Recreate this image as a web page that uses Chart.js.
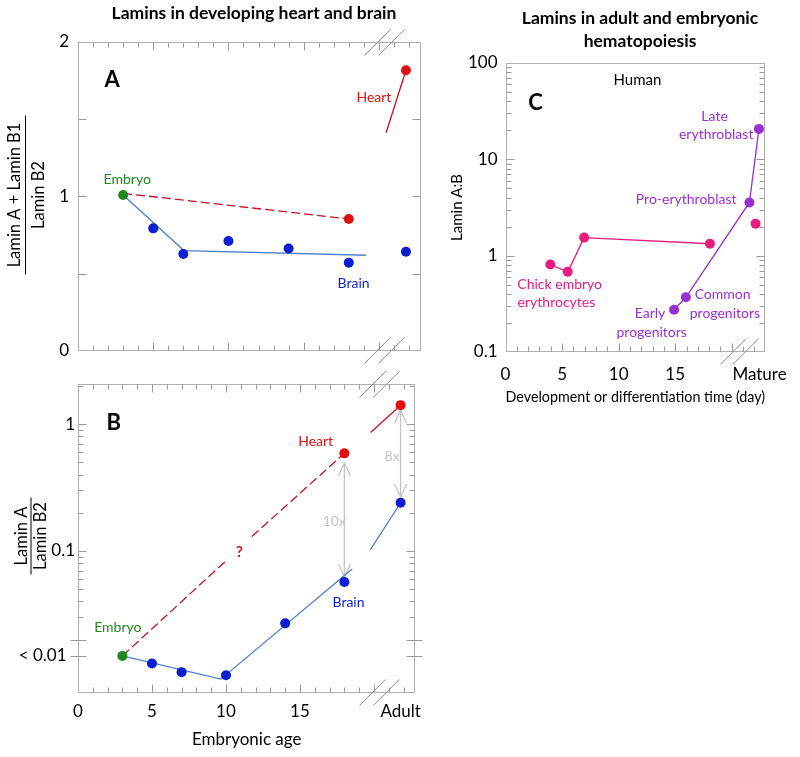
<!DOCTYPE html>
<html><head><meta charset="utf-8">
<script src="https://cdn.jsdelivr.net/npm/chart.js@4.4.1/dist/chart.umd.min.js"></script>
<style>
body{margin:0;background:#fff;width:800px;height:757px;position:relative;overflow:hidden}
canvas{position:absolute;display:block}
#cA{left:0;top:0}#cB{left:0;top:370px}#cC{left:430px;top:0}
</style></head><body>
<canvas id="cA" width="430" height="370"></canvas>
<canvas id="cB" width="430" height="387"></canvas>
<canvas id="cC" width="370" height="420"></canvas>
<script>
// ---------- DATA ----------
// Panel A: (Lamin A + Lamin B1) / Lamin B2, linear
const embryoAge = 3;
const adultX = 21.8;
const embryoRatioA = 1.009;
const brainAgesA = [5, 7, 10, 14, 18, 21.8];
const brainRatioA = [0.793, 0.627, 0.711, 0.662, 0.571, 0.642];
const heartAgesA = [18, 21.8];
const heartRatioA = [0.854, 1.817];
const brainFitXA = [3, 7.04, 19.15];
const brainFitYA = [1.009, 0.649, 0.619];
const heartDashXA = [3, 18];
const heartDashYA = [1.02, 0.854];
const heartAdultXA = [20.48, 21.8];
const heartAdultYA = [1.412, 1.817];
const yTicksA = [0, 1, 2];

// Panel B: Lamin A / Lamin B2, log
const embryoRatioB = 0.0149;
const brainAgesB = [5, 7, 10, 14, 18, 21.8];
const brainRatioB = [0.0130, 0.0111, 0.0105, 0.0269, 0.057, 0.240];
const heartAgesB = [18, 21.8];
const heartRatioB = [0.588, 1.41];
const brainFitXB = [3, 9.65, 18.53];
const brainFitYB = [0.0149, 0.00977, 0.0721];
const brainAdultXB = [19.75, 21.8];
const brainAdultYB = [0.102, 0.240];
const heartDash1XB = [3, 9.94];
const heartDash1YB = [0.0149, 0.0824];
const heartDash2XB = [11.75, 18];
const heartDash2YB = [0.130, 0.588];
const heartAdultXB = [19.77, 21.8];
const heartAdultYB = [0.859, 1.41];
const foldX = [18, 21.8];
const foldTop = [0.493, 1.289];
const foldBottom = [0.0624, 0.266];
const foldLabels = ['10x', '8x'];
const xTicksB = [0, 5, 10, 15, 21.8];
const xTickLabelsB = ['0', '5', '10', '15', 'Adult'];
const yTicksB = [0.0149, 0.1, 1];
const yTickLabelsB = ['< 0.01\u2002', '0.1', '1'];

// Panel C: Lamin A:B, log
const chickDays = [3.96, 5.5, 6.95, 18.07];
const chickRatio = [0.81, 0.68, 1.54, 1.33];
const chickMatureX = [22.1];
const chickMatureRatio = [2.15];
const humanDays = [14.9, 15.94, 21.56, 22.4];
const humanRatio = [0.275, 0.37, 3.57, 20.7];
const xTicksC = [0, 5, 10, 15, 22.45];
const xTickLabelsC = ['0', '5', '10', '15', 'Mature'];
const yTicksC = [0.1, 1, 10, 100];
const yTickLabelsC = ['0.1', '1', '10', '100'];

// ---------- STYLE ----------
const FONT = 'Lato, "Open Sans", sans-serif';
Chart.defaults.font.family = FONT;
Chart.defaults.color = '#000';
const RED = '#e01010', REDLINE = '#c8102a', BLUE = '#0a1ed2', BLUELINE = '#4d80cc',
      GREEN = '#1e8a1e', PINK = '#ea1a7f', PURPLE = '#9a30d2', GRAY = '#c4c4c4',
      FRAME = '#b0b0b0', TICK = '#999999', SLASH = '#8a8a8a';

function pts(xs, ys) { return xs.map((x, i) => ({x: x, y: ys[i]})); }
function lineDS(xs, ys, c, dash) {
  return {data: pts(xs, ys), showLine: true, borderColor: c, borderWidth: 1.3,
    borderDash: dash || [], pointRadius: 0, pointHoverRadius: 0, fill: false, order: 2};
}
function dotDS(xs, ys, c) {
  return {data: pts(xs, ys), showLine: false, backgroundColor: c, borderColor: c,
    pointRadius: 5, pointBorderWidth: 0, pointHoverRadius: 5, order: 1};
}
function range(a, b) { const r = []; for (let i = a; i <= b; i++) r.push(i); return r; }
function logMinor(decades) { const r = []; decades.forEach(d => { for (let k = 2; k <= 9; k++) r.push(+(d * k).toPrecision(3)); }); return r; }

// decoration (frames, inner tick marks, axis breaks, labels)
const xMarksAB = range(1, 22).map(v => [v, v % 5 === 0 ? 8 : 5]);
const xMarksC = range(1, 22).map(v => [v, v % 5 === 0 ? 8 : 5]);
const lab = (t, x, y, color, font) => ({t, x, y, color, font});
const F14 = '14px ' + FONT, BIG = 'bold 22px ' + FONT, TITLE = 'bold 17.5px ' + FONT;
const DECOR = {
  cA: {
    xMarks: xMarksAB, xTop: true,
    yMarks: [[0.5, 8], [1, 8], [1.5, 8]],
    xBreaks: [19.9, 20.83], breakEdges: ['top', 'bottom'],
    labels: [
      lab('A', 2.27, 1.752, '#000', BIG),
      lab('Heart', 19.67, 1.64, RED, F14),
      lab('Embryo', 3.27, 1.11, GREEN, F14),
      lab('Brain', 18.32, 0.433, BLUE, F14)
    ],
    texts: [{t: 'Lamins in developing heart and brain', x: 254, y: 13, font: TITLE}],
    fraction: {num: 'Lamin A + Lamin B1', den: 'Lamin B2', numX: 15, denX: 38.5, barX: 25.5, cy: 195, len: 159, font: '16.5px ' + FONT}
  },
  cB: {
    xMarks: xMarksAB, xTop: true,
    yMarks: [[1, 8], [0.1, 8]].concat(logMinor([0.01, 0.1]).filter(v => v > 0.025).map(v => [v, 5])).concat([[2, 5]]),
    yBreaks: [0.02, 0.0149],
    xBreaks: [19.9, 20.83], breakEdges: ['top', 'bottom'],
    arrows: foldX.map((x, i) => ({x: x, top: foldTop[i], bottom: foldBottom[i]})),
    labels: [
      lab('B', 2.42, 1.02, '#000', BIG),
      lab('Heart', 16.06, 0.735, RED, F14),
      lab('Brain', 18.28, 0.0391, BLUE, F14),
      lab('Embryo', 2.69, 0.025, GREEN, F14),
      lab('?', 10.91, 0.0971, '#c8102a', 'bold 15px ' + FONT),
      lab(foldLabels[0], 17.32, 0.17, GRAY, F14),
      lab(foldLabels[1], 21.23, 0.553, GRAY, F14)
    ],
    texts: [],
    fraction: {num: 'Lamin A', den: 'Lamin B2', numX: 22, denX: 40.5, barX: 31, cy: 166, len: 77, font: '16.5px ' + FONT}
  },
  cC: {
    xMarks: xMarksC, xTop: false,
    yMarks: [[1, 8], [10, 8]].concat(logMinor([0.1, 1, 10]).map(v => [v, 5])),
    xBreaks: [20.13, 21.24], breakEdges: ['bottom'],
    labels: [
      lab('Human', 11.66, 65.7, '#000', '15px ' + FONT),
      lab('C', 2.65, 38.6, '#000', BIG),
      lab('Late', 18.48, 27.9, PURPLE, F14),
      lab('erythroblast', 18.62, 18.0, PURPLE, F14),
      lab('Pro-erythroblast', 15.97, 3.81, PURPLE, F14),
      lab('Chick embryo', 4.79, 0.508, PINK, F14),
      lab('erythrocytes', 4.5, 0.327, PINK, F14),
      lab('Common', 19.19, 0.394, PURPLE, F14),
      lab('progenitors', 19.39, 0.25, PURPLE, F14),
      lab('Early', 12.77, 0.25, PURPLE, F14),
      lab('progenitors', 12.92, 0.161, PURPLE, F14)
    ],
    texts: [
      {t: 'Lamins in adult and embryonic', x: 210, y: 18, font: TITLE},
      {t: 'hematopoiesis', x: 210, y: 41, font: TITLE}
    ]
  }
};

const decor = {
  id: 'decor',
  beforeDatasetsDraw(chart) {
    const d = DECOR[chart.canvas.id]; if (!d) return;
    const {ctx, chartArea: a, scales: {x, y}} = chart;
    const L = Math.round(a.left) + 0.5, R = Math.round(a.right) - 0.5,
          T = Math.round(a.top) + 0.5, B = Math.round(a.bottom) - 0.5;
    ctx.save();
    ctx.lineWidth = 1;
    ctx.strokeStyle = FRAME;
    ctx.strokeRect(L, T, R - L, B - T);
    ctx.strokeStyle = TICK;
    ctx.beginPath();
    (d.xMarks || []).forEach(([v, len]) => {
      const px = Math.round(x.getPixelForValue(v)) + 0.5;
      ctx.moveTo(px, B); ctx.lineTo(px, B - len);
      if (d.xTop) { ctx.moveTo(px, T); ctx.lineTo(px, T + len); }
    });
    (d.yMarks || []).forEach(([v, len]) => {
      const py = Math.round(y.getPixelForValue(v)) + 0.5;
      ctx.moveTo(L, py); ctx.lineTo(L + len, py);
      ctx.moveTo(R, py); ctx.lineTo(R - len, py);
    });
    (d.yBreaks || []).forEach(v => {
      const py = Math.round(y.getPixelForValue(v)) + 0.5;
      ctx.moveTo(L - 8, py); ctx.lineTo(L + 8, py);
      ctx.moveTo(R - 8, py); ctx.lineTo(R + 8, py);
    });
    ctx.stroke();
    ctx.strokeStyle = SLASH;
    ctx.beginPath();
    (d.xBreaks || []).forEach(v => {
      const px = x.getPixelForValue(v);
      d.breakEdges.forEach(e => {
        const ey = e === 'top' ? T : B;
        ctx.moveTo(px - 13, ey + 13); ctx.lineTo(px + 13, ey - 13);
      });
    });
    ctx.stroke();
    if (d.arrows) {
      ctx.strokeStyle = GRAY; ctx.lineWidth = 1.3;
      d.arrows.forEach(ar => {
        const px = x.getPixelForValue(ar.x), t = y.getPixelForValue(ar.top), b = y.getPixelForValue(ar.bottom);
        ctx.beginPath();
        ctx.moveTo(px, t); ctx.lineTo(px, b);
        ctx.moveTo(px - 6, t + 13); ctx.lineTo(px, t); ctx.lineTo(px + 6, t + 13);
        ctx.moveTo(px - 6, b - 13); ctx.lineTo(px, b); ctx.lineTo(px + 6, b - 13);
        ctx.stroke();
      });
    }
    ctx.restore();
  },
  afterDatasetsDraw(chart) {
    const d = DECOR[chart.canvas.id]; if (!d) return;
    const {ctx, scales: {x, y}} = chart;
    ctx.save();
    ctx.textAlign = 'center'; ctx.textBaseline = 'middle';
    (d.labels || []).forEach(l => {
      ctx.font = l.font; ctx.fillStyle = l.color;
      ctx.fillText(l.t, x.getPixelForValue(l.x), y.getPixelForValue(l.y));
    });
    (d.texts || []).forEach(l => {
      ctx.font = l.font; ctx.fillStyle = '#000';
      ctx.fillText(l.t, l.x, l.y);
    });
    if (d.fraction) {
      const f = d.fraction;
      ctx.font = f.font; ctx.fillStyle = '#000';
      ctx.translate(0, f.cy); ctx.rotate(-Math.PI / 2);
      ctx.fillText(f.num, 0, f.numX);
      ctx.fillText(f.den, 0, f.denX);
      ctx.strokeStyle = '#000'; ctx.lineWidth = 1;
      ctx.beginPath(); ctx.moveTo(-f.len / 2, f.barX); ctx.lineTo(f.len / 2, f.barX); ctx.stroke();
    }
    ctx.restore();
  }
};

const noGrid = {display: false, drawTicks: false};
const noBorder = {display: false};
const baseOpts = {responsive: false, animation: false, events: [],
  plugins: {legend: {display: false}, tooltip: {enabled: false}}};

// ---------- CHART A ----------
new Chart(document.getElementById('cA'), {
  type: 'scatter',
  data: {datasets: [
    dotDS([embryoAge], [embryoRatioA], GREEN),
    dotDS(heartAgesA, heartRatioA, RED),
    dotDS(brainAgesA, brainRatioA, BLUE),
    lineDS(heartDashXA, heartDashYA, REDLINE, [9, 4]),
    lineDS(heartAdultXA, heartAdultYA, REDLINE),
    lineDS(brainFitXA, brainFitYA, BLUELINE)
  ]},
  options: Object.assign({}, baseOpts, {
    layout: {padding: {top: 42, right: 9, bottom: 0, left: 0}},
    scales: {
      x: {type: 'linear', min: 0, max: 22.8, ticks: {display: false}, grid: noGrid, border: noBorder,
          afterFit: s => { s.height = 19; }},
      y: {type: 'linear', min: 0, max: 2, grid: noGrid, border: noBorder,
          afterBuildTicks: s => { s.ticks = yTicksA.map(v => ({value: v})); },
          ticks: {font: {size: 17}, padding: 9, color: '#000'},
          afterFit: s => { s.width = 78; }}
    }
  }),
  plugins: [decor]
});

// ---------- CHART B ----------
new Chart(document.getElementById('cB'), {
  type: 'scatter',
  data: {datasets: [
    dotDS([embryoAge], [embryoRatioB], GREEN),
    dotDS(heartAgesB, heartRatioB, RED),
    dotDS(brainAgesB, brainRatioB, BLUE),
    lineDS(heartDash1XB, heartDash1YB, REDLINE, [9, 4]),
    lineDS(heartDash2XB, heartDash2YB, REDLINE, [9, 4]),
    lineDS(heartAdultXB, heartAdultYB, REDLINE),
    lineDS(brainFitXB, brainFitYB, BLUELINE),
    lineDS(brainAdultXB, brainAdultYB, BLUELINE)
  ]},
  options: Object.assign({}, baseOpts, {
    layout: {padding: {top: 14, right: 9, bottom: 6.8, left: 0}},
    scales: {
      x: {type: 'linear', min: 0, max: 22.8, grid: noGrid, border: noBorder,
          afterBuildTicks: s => { s.ticks = xTicksB.map(v => ({value: v})); },
          ticks: {font: {size: 17}, padding: 8.8, color: '#000', maxRotation: 0, autoSkip: false,
                  callback: (v, i) => xTickLabelsB[i]},
          title: {display: true, text: 'Embryonic age', font: {size: 17}, padding: 0, color: '#000'},
          afterFit: s => { s.height = 57.2; }},
      y: {type: 'logarithmic', min: 0.0076, max: 2.07, grid: noGrid, border: noBorder,
          afterBuildTicks: s => { s.ticks = yTicksB.map(v => ({value: v})); },
          ticks: {font: {size: 17}, padding: 3, color: '#000', autoSkip: false,
                  callback: (v, i) => yTickLabelsB[i]},
          afterFit: s => { s.width = 78; }}
    }
  }),
  plugins: [decor]
});

// ---------- CHART C ----------
new Chart(document.getElementById('cC'), {
  type: 'scatter',
  data: {datasets: [
    dotDS(chickDays, chickRatio, PINK),
    dotDS(chickMatureX, chickMatureRatio, PINK),
    dotDS(humanDays, humanRatio, PURPLE),
    lineDS(chickDays, chickRatio, PINK),
    lineDS(humanDays, humanRatio, PURPLE)
  ]},
  options: Object.assign({}, baseOpts, {
    layout: {padding: {top: 63, right: 26, bottom: 14.3, left: 18.4}},
    scales: {
      x: {type: 'linear', min: 0, max: 22.95, grid: noGrid, border: noBorder,
          afterBuildTicks: s => { s.ticks = xTicksC.map(v => ({value: v})); },
          ticks: {font: {size: 17}, padding: 12.8, color: '#000', maxRotation: 0, autoSkip: false,
                  callback: (v, i) => xTickLabelsC[i]},
          title: {display: true, text: 'Development or differentiation time (day)', font: {size: 15}, padding: 0, color: '#000'},
          afterFit: s => { s.height = 53.7; }},
      y: {type: 'logarithmic', min: 0.1, max: 100, grid: noGrid, border: noBorder,
          afterBuildTicks: s => { s.ticks = yTicksC.map(v => ({value: v})); },
          ticks: {font: {size: 17}, padding: 8, color: '#000', autoSkip: false,
                  callback: (v, i) => yTickLabelsC[i]},
          title: {display: true, text: 'Lamin A:B', font: {size: 15}, padding: 0, color: '#000'},
          afterFit: s => { s.width = 57.1; }}
    }
  }),
  plugins: [decor]
});
</script>
</body></html>
